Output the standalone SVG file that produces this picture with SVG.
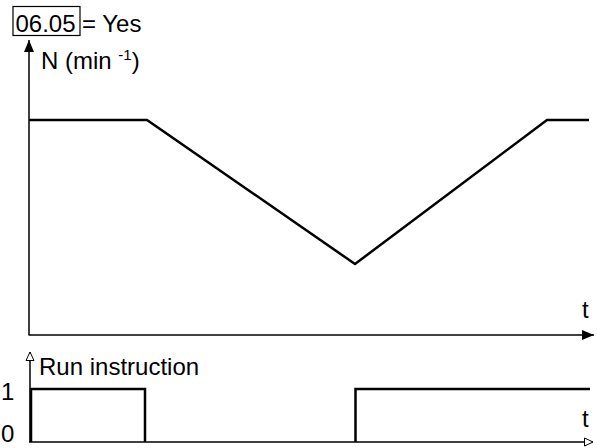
<svg xmlns="http://www.w3.org/2000/svg" width="597" height="448" viewBox="0 0 597 448">
  <style>
    text { font-family: "Liberation Sans", Arial, sans-serif; font-size: 24px; fill: #000; }
    .axis { stroke: #000; stroke-width: 1.5; fill: none; }
    .trace { stroke: #000; stroke-width: 2.5; fill: none; stroke-linejoin: miter; }
  </style>
  <defs>
    <marker id="solid" viewBox="0 0 12 10" refX="12" refY="5" markerWidth="12" markerHeight="10" markerUnits="userSpaceOnUse" orient="auto">
      <path d="M0,0 L12,5 L0,10 Z" fill="#000"/>
    </marker>
    <marker id="hollow" viewBox="0 0 10 10" refX="9.5" refY="5" markerWidth="10" markerHeight="10" markerUnits="userSpaceOnUse" orient="auto">
      <path d="M1,1 L9.5,5 L1,9 Z" fill="#fff" stroke="#000" stroke-width="1"/>
    </marker>
  </defs>

  <!-- parameter condition label -->
  <g id="param">
    <rect x="13" y="6.5" width="67" height="29" fill="none" stroke="#000" stroke-width="1.2"/>
    <text x="15.5" y="32">06.05</text>
    <text x="82" y="32">= Yes</text>
  </g>

  <!-- speed chart -->
  <g id="speed-axes">
    <line class="axis" x1="29" y1="335" x2="29" y2="40" marker-end="url(#solid)"/>
    <line class="axis" x1="28.5" y1="335" x2="594" y2="335" marker-end="url(#solid)"/>
    <text x="41" y="69">N (min <tspan font-size="15" dy="-9">-1</tspan><tspan dy="9">)</tspan></text>
    <text x="582" y="318">t</text>
  </g>
  <g id="speed-trace">
    <polyline class="trace" points="29,120 147,120 355,264 547,120 589,120"/>
  </g>

  <!-- run instruction chart -->
  <g id="run-axes">
    <line class="axis" x1="30" y1="442" x2="30" y2="352" marker-end="url(#hollow)" stroke-width="1"/>
    <line class="axis" x1="29" y1="442" x2="593" y2="442" marker-end="url(#hollow)"/>
    <text x="39" y="375">Run instruction</text>
    <text x="1" y="400">1</text>
    <text x="1" y="442">0</text>
    <text x="582" y="427">t</text>
  </g>
  <g id="run-trace">
    <polyline class="trace" points="31,442 31,389 145,389 145,442"/>
    <polyline class="trace" points="355.5,442 355.5,389 590,389"/>
  </g>
</svg>
